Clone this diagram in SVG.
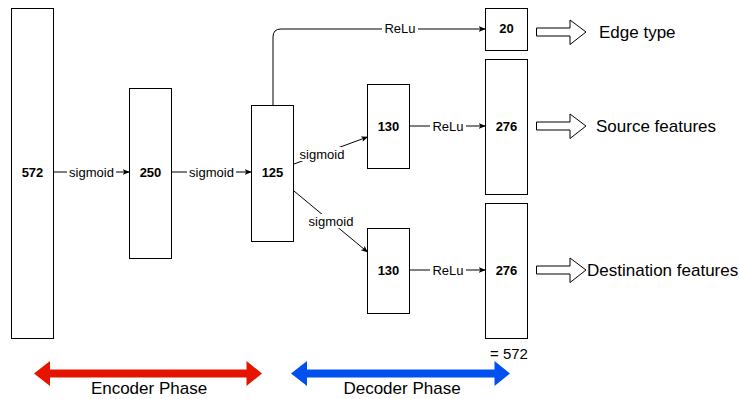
<svg xmlns="http://www.w3.org/2000/svg" width="739" height="399" viewBox="0 0 739 399">
<style>
text{font-family:"Liberation Sans",Arial,Helvetica,sans-serif;fill:#000}
.box{fill:#fff;stroke:#000;stroke-width:1}
.num{font-size:13px;font-weight:bold;text-anchor:middle;dominant-baseline:central}
.lbl{font-size:13px;text-anchor:middle;dominant-baseline:central}
.edge{fill:none;stroke:#000;stroke-width:1;marker-end:url(#ah)}
.bg{fill:#fff}
.hollow{fill:#fff;stroke:#000;stroke-width:1}
.out{font-size:17px;dominant-baseline:central}
.phase{font-size:17px;text-anchor:middle;dominant-baseline:central}
</style>
<defs>
<marker id="ah" viewBox="0 0 10 10" refX="9" refY="5" markerWidth="7" markerHeight="7" markerUnits="userSpaceOnUse" orient="auto">
<path d="M0,1 L10,5 L0,9 L2.5,5 Z" fill="#000"/>
</marker>
</defs>
<g id="connectors">
<path class="edge" d="M53.5,172 H129"/>
<path class="edge" d="M172,172 H251"/>
<path class="edge" d="M273,105.5 V37 Q273,29 281,29 H485"/>
<path class="edge" d="M294,164 L367.5,137"/>
<path class="edge" d="M294,191 L367.5,252"/>
<path class="edge" d="M410,126 H485"/>
<path class="edge" d="M410,270 H485"/>
<rect class="bg" x="67" y="165" width="49" height="14"/>
<text class="lbl" x="91.5" y="172">sigmoid</text>
<rect class="bg" x="187" y="165" width="49" height="14"/>
<text class="lbl" x="211.5" y="172">sigmoid</text>
<rect class="bg" x="382" y="22" width="36" height="14"/>
<text class="lbl" x="400" y="28">ReLu</text>
<rect class="bg" x="298" y="147" width="48" height="14"/>
<text class="lbl" x="322" y="154">sigmoid</text>
<rect class="bg" x="307" y="214" width="48" height="14"/>
<text class="lbl" x="331" y="221">sigmoid</text>
<rect class="bg" x="430" y="119" width="36" height="14"/>
<text class="lbl" x="448" y="126">ReLu</text>
<rect class="bg" x="430" y="263" width="36" height="14"/>
<text class="lbl" x="448" y="270">ReLu</text>
</g>
<g id="n572"><rect class="box" x="11.5" y="8.5" width="42" height="330"/><text class="num" x="32.5" y="172">572</text></g>
<g id="n250"><rect class="box" x="129.5" y="88.5" width="42" height="170"/><text class="num" x="150.5" y="172">250</text></g>
<g id="n125"><rect class="box" x="251.5" y="105.5" width="42" height="136"/><text class="num" x="272.5" y="172">125</text></g>
<g id="n130a"><rect class="box" x="367.5" y="84.5" width="42" height="84"/><text class="num" x="388.5" y="126">130</text></g>
<g id="n130b"><rect class="box" x="367.5" y="228.5" width="42" height="85"/><text class="num" x="388.5" y="270">130</text></g>
<g id="n20"><rect class="box" x="485.5" y="8.5" width="42" height="42"/><text class="num" x="506.5" y="28.5">20</text></g>
<g id="n276a"><rect class="box" x="485.5" y="59.5" width="42" height="135"/><text class="num" x="506.5" y="126">276</text></g>
<g id="n276b"><rect class="box" x="485.5" y="203.5" width="42" height="135"/><text class="num" x="506.5" y="270">276</text><text x="490" y="353" style="font-size:15px;dominant-baseline:central">= 572</text></g>
<g id="out-edge">
<path class="hollow" d="M536.5,28 H570 V20 L586,32 L570,44.5 V36 H536.5 Z"/>
<text class="out" x="599" y="32">Edge type</text>
</g>
<g id="out-source">
<path class="hollow" d="M536.5,122 H570 V114 L586,126 L570,138.5 V130 H536.5 Z"/>
<text class="out" x="596" y="126">Source features</text>
</g>
<g id="out-dest">
<path class="hollow" d="M536.5,266 H570 V258 L586,270 L570,282.5 V274 H536.5 Z"/>
<text class="out" x="587" y="270">Destination features</text>
</g>
<g id="encoder">
<path d="M34,373.5 L50,361 V369.5 H246.5 V361 L262,373.5 L246.5,386 V377.5 H50 V386 Z" fill="#e51400"/>
<text class="phase" x="149" y="388">Encoder Phase</text>
</g>
<g id="decoder">
<path d="M291,373.5 L307,361 V369.5 H494.5 V361 L510,373.5 L494.5,386 V377.5 H307 V386 Z" fill="#0050ef"/>
<text class="phase" x="402" y="388">Decoder Phase</text>
</g>
</svg>
